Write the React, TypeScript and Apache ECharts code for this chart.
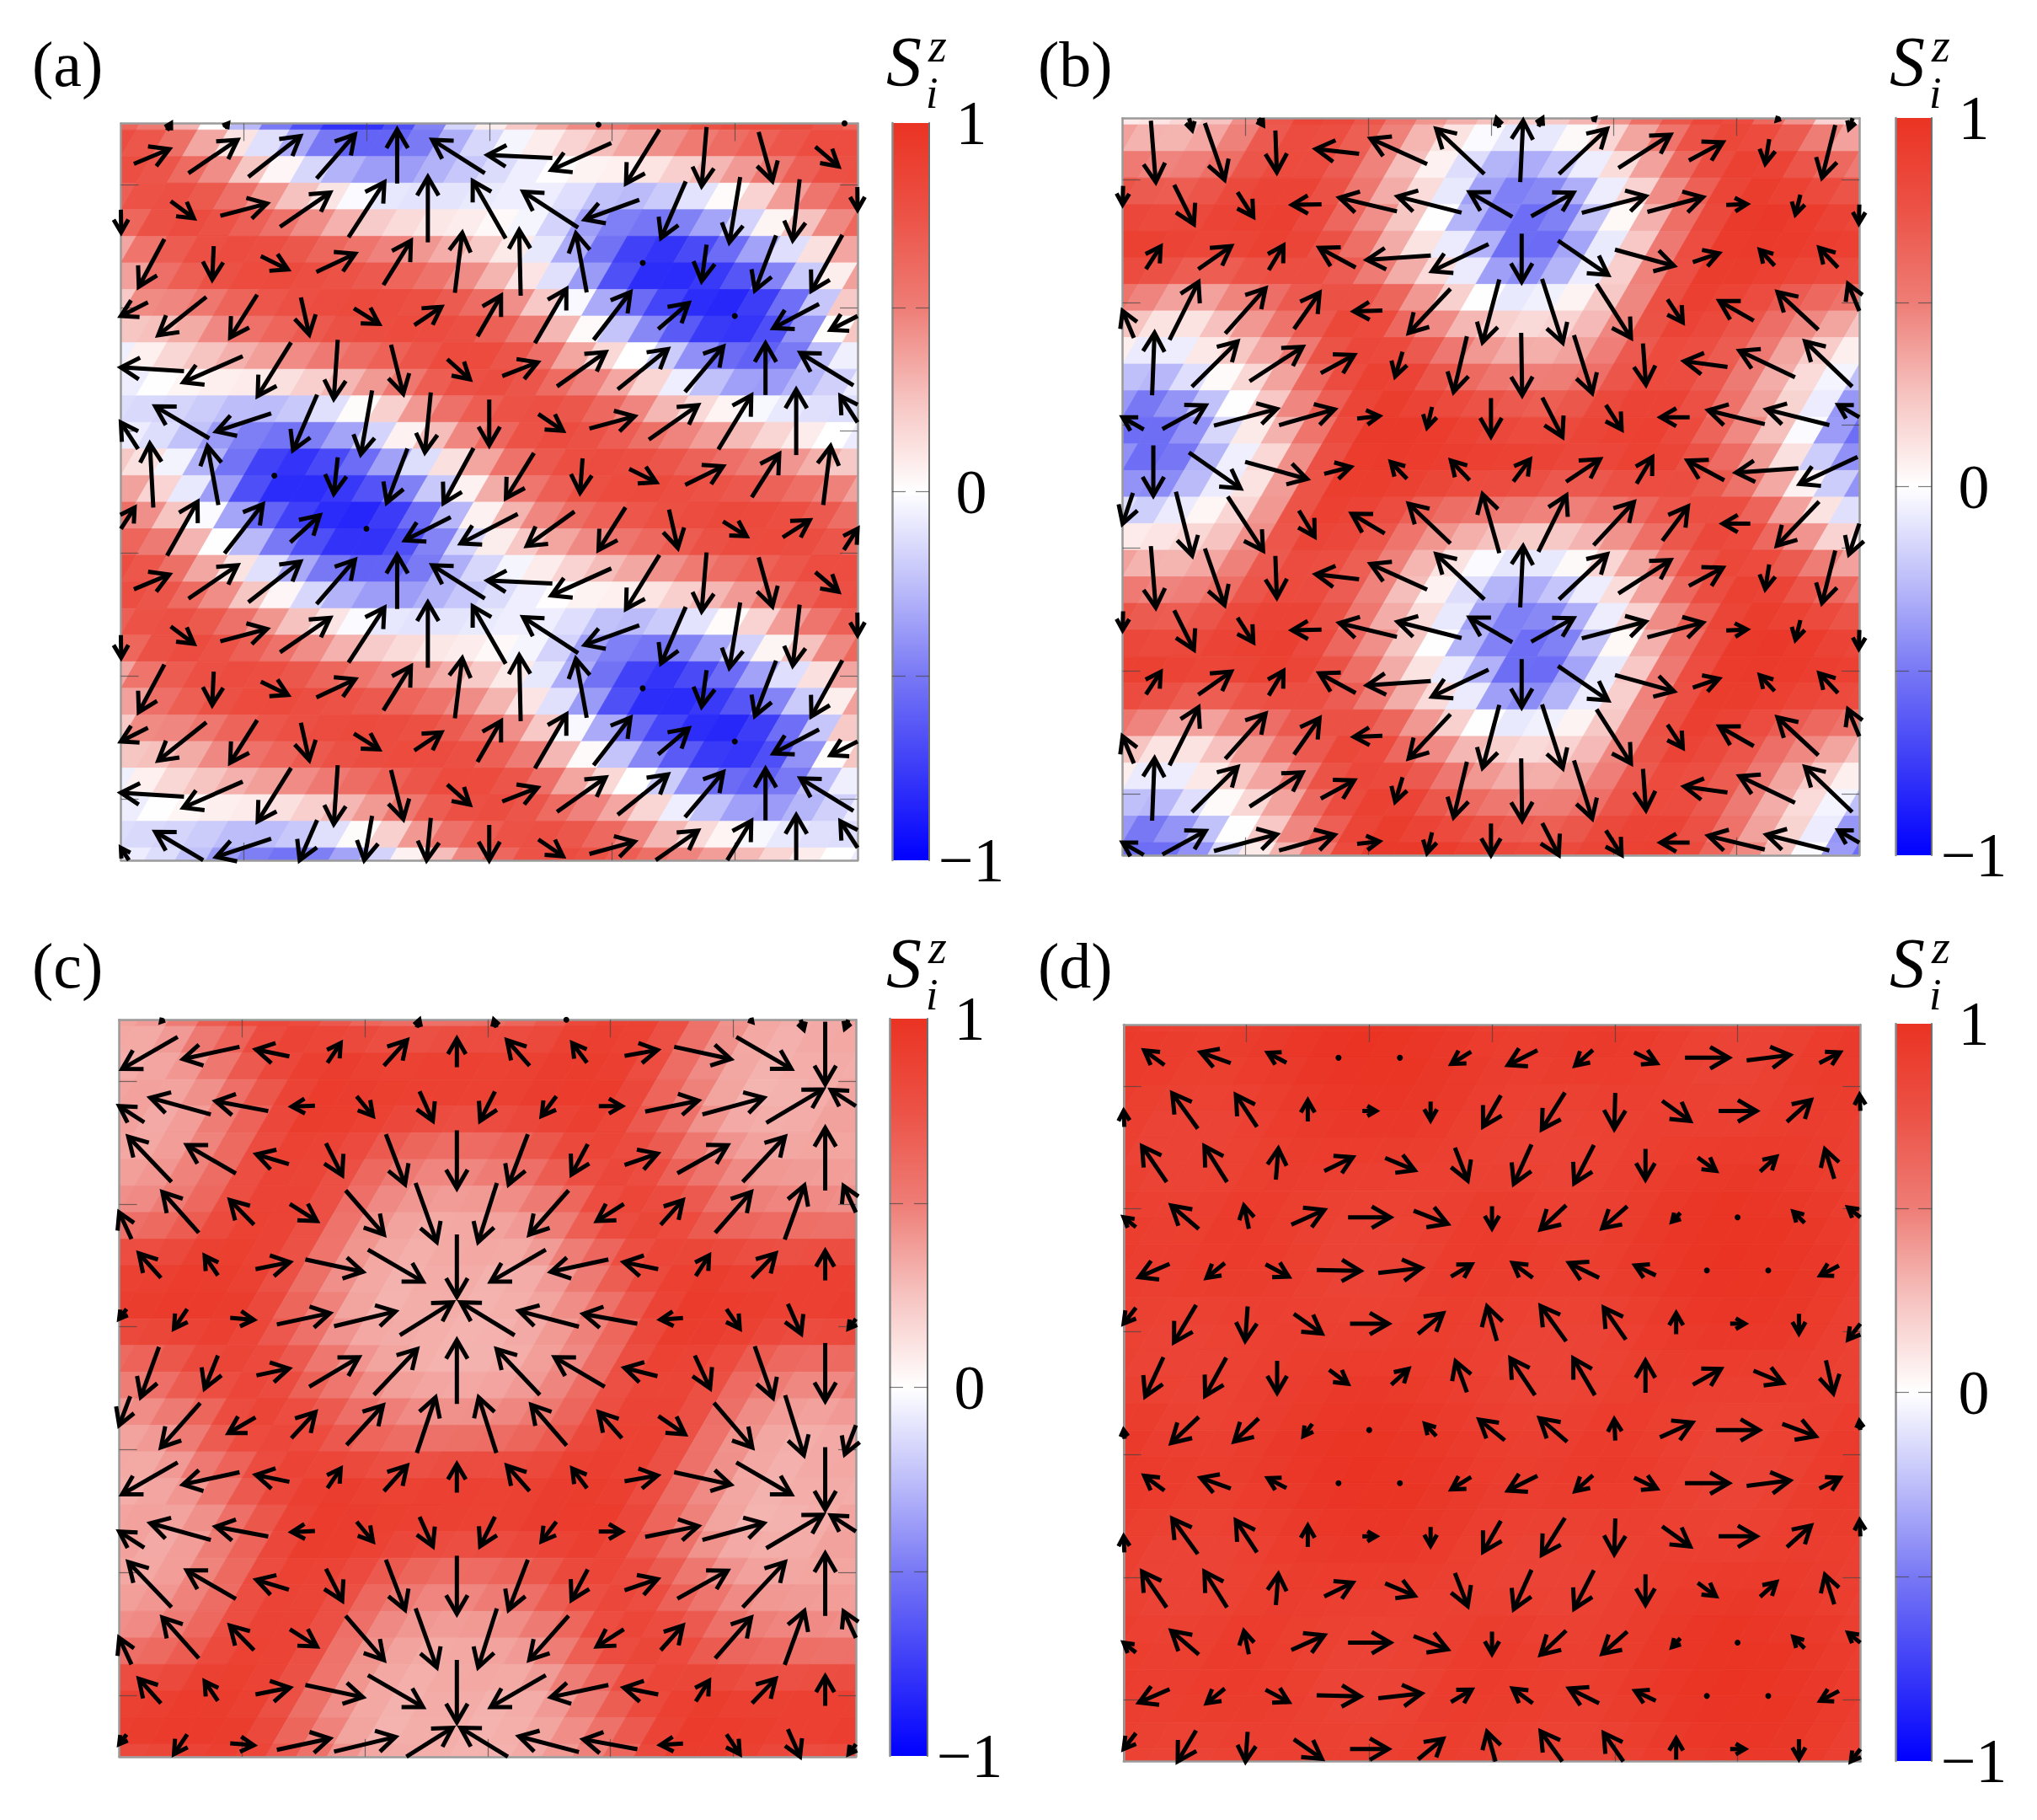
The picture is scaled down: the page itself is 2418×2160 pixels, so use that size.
import React, { useEffect, useRef } from "react";
import * as echarts from "echarts";

// Values: one magnetic unit cell of 8 lattice rows x 12 sites per panel.
// VX, VY: in-plane arrow components (1/125 of a lattice constant, y up). SZ: colour value at the site.
const A_VX = [
  [72,100,106,78,0,-107,-132,-122,-68,-10,28,47],
  [1,47,95,102,73,0,-67,-112,-111,-50,-22,-14],
  [-52,-3,55,79,56,15,-3,-22,0,-10,-43,-63],
  [-110,-98,-55,17,51,55,48,64,75,62,0,-93],
  [-132,-121,-68,-8,25,46,72,99,102,78,0,-108],
  [-70,-110,-112,-49,-23,-12,0,50,92,100,67,0],
  [-7,-22,0,-8,-42,-61,-57,-5,55,77,56,15],
  [56,62,78,60,0,-93,-116,-97,-55,18,48,55],
];
const A_VY = [
  [30,68,83,90,110,68,6,-55,-110,-120,-100,-40],
  [-92,-35,25,70,112,133,117,73,-40,-115,-133,-124],
  [-97,-68,-27,37,90,122,134,120,0,-74,-112,-114],
  [-56,-78,-87,-76,-32,37,83,110,97,53,0,-49],
  [8,-53,-109,-120,-100,-41,28,70,82,92,105,66],
  [108,65,-37,-113,-130,-122,-93,-34,25,70,110,133],
  [130,120,0,-74,-110,-112,-92,-70,-27,38,88,120],
  [86,110,100,55,0,-47,-60,-70,-87,-78,-30,35],
];
const A_SZ = [
  [.81,.43,-.05,-.46,-.57,-.32,-.12,.1,.25,.45,.63,.89],
  [.72,.9,.68,.38,.08,-.05,-.05,-.12,-.47,-.38,-.1,.35],
  [.57,.86,.89,.76,.61,.4,.07,-.41,-.98,-.83,-.45,.1],
  [.4,.35,.64,.81,.89,.87,.7,.3,-.3,-.79,-.98,-.62],
  [.05,.17,.28,.45,.64,.89,.82,.43,.15,-.38,-.62,-.3],
  [-.2,-.28,-.47,-.4,-.1,.38,.72,.89,.7,.4,.2,-.05],
  [.2,-.4,-.98,-.83,-.47,.1,.59,.85,.89,.76,.63,.43],
  [.64,.33,-.35,-.8,-.98,-.63,.1,.45,.64,.8,.9,.88],
];
const B_VX = [
  [10,40,3,-88,-115,-98,6,98,106,69,-8,-27],
  [-2,40,32,-60,-117,-130,-87,86,130,113,42,-10],
  [30,67,30,-74,-130,-115,0,102,120,53,-30,-38],
  [-46,59,82,52,-58,-85,-34,42,70,31,-70,-83],
  [5,93,108,68,-15,-27,2,37,6,-88,-113,-96],
  [-86,88,128,113,45,-10,0,41,32,-59,-115,-128],
  [0,105,126,54,-33,-38,34,69,32,-75,-127,-118],
  [-42,33,72,32,-67,-85,-34,57,82,52,-56,-86],
];
const B_VY = [
  [-125,-115,-85,10,52,92,125,92,68,37,-50,-107],
  [-76,-80,-50,-1,28,33,50,48,34,30,2,-40],
  [46,47,50,40,-9,-55,-98,-70,-33,18,32,40],
  [110,118,92,74,-2,-90,-128,-130,-110,-47,40,77],
  [127,92,70,37,-50,-113,-127,-118,-84,12,54,92],
  [50,48,34,32,5,-42,-78,-80,-50,0,28,32],
  [-102,-73,-35,14,34,40,45,46,54,40,-9,-55],
  [-125,-130,-110,-53,40,81,120,115,88,70,0,-90],
];
const B_SZ = [
  [.35,.42,.78,.76,.35,-.1,-.3,-.05,.35,.82,.93,.57],
  [.82,.77,.9,.9,.45,.1,-.55,-.55,-.05,.5,.95,.95],
  [.92,.82,.91,.79,.25,-.05,-.7,-.3,.35,.92,.95,.92],
  [.4,.15,.4,.75,.92,.4,.1,.05,.3,.92,.82,.55],
  [-.25,.1,.3,.83,.93,.55,.38,.42,.78,.76,.4,.05],
  [-.65,-.5,.05,.5,.95,.95,.83,.75,.9,.9,.48,.1],
  [-.65,-.25,.2,.92,.94,.92,.92,.8,.9,.79,.35,-.25],
  [-.1,.05,.25,.9,.83,.5,.4,.35,.47,.77,.92,.4],
];
const C_VX = [
  [-113,-115,-68,27,47,0,-46,-30,67,115,112,0],
  [-102,-123,-107,-47,33,27,-30,-30,47,108,125,115],
  [-88,-100,-66,33,39,0,-39,-33,67,102,86,0],
  [-50,-74,-49,55,78,43,-38,-80,-55,45,73,40],
  [-45,-27,70,117,112,0,-112,-117,-70,27,48,0],
  [-30,-27,48,108,125,107,-110,-122,-110,-46,27,27],
  [-37,-27,66,101,88,0,-88,-102,-67,31,37,0],
  [-45,-80,-55,49,74,38,-36,-72,-47,54,78,38],
];
const C_VY = [
  [-65,-25,14,40,52,58,52,40,12,-25,-65,-127],
  [66,34,20,-2,-40,-60,-60,-40,0,22,34,68],
  [92,58,20,-65,-102,-118,-102,-62,23,57,92,127],
  [108,83,50,-35,-90,-120,-120,-90,-35,50,83,110],
  [50,40,14,-25,-65,-127,-65,-25,14,42,50,60],
  [-40,-40,-4,23,30,67,67,32,20,-3,-40,-61],
  [-102,-67,14,60,93,130,93,60,17,-67,-105,-118],
  [-118,-90,-32,53,81,113,113,83,53,-37,-91,-122],
];
const C_SZ = [
  [.3,.48,.87,.93,.85,.91,.87,.93,.87,.48,.3,.35],
  [.4,.32,.58,.94,.93,.88,.88,.93,.94,.57,.3,.3],
  [.35,.5,.87,.84,.58,.48,.58,.85,.85,.5,.36,.35],
  [.45,.55,.86,.88,.45,.35,.35,.45,.88,.87,.55,.5],
  [.87,.94,.85,.45,.3,.35,.3,.45,.85,.93,.86,.9],
  [.93,.94,.94,.57,.3,.33,.3,.36,.55,.94,.94,.88],
  [.58,.85,.87,.5,.33,.3,.33,.48,.86,.84,.55,.48],
  [.35,.45,.89,.85,.58,.47,.47,.58,.86,.88,.45,.32],
];
const D_VX = [
  [-41,-61,-38,0,0,-40,-60,-36,46,89,88,42],
  [-3,-52,-43,0,28,0,-36,-47,-2,57,77,49],
  [-50,-46,5,58,60,26,-36,-40,0,37,33,-19],
  [-50,-56,-10,67,86,69,0,-52,-51,-17,0,-23],
  [-62,-37,47,89,88,42,-41,-61,-42,0,0,-38],
  [-50,-45,-5,57,78,51,-20,-52,-45,0,30,0],
  [-37,-43,0,38,35,-23,-50,-44,0,57,60,15],
  [-4,-56,-50,-18,0,-23,-52,-56,-2,66,88,68],
];
const D_VY = [
  [30,22,20,0,0,-25,-30,-32,-22,0,11,22],
  [65,72,65,43,0,-38,-63,-75,-73,-41,0,44],
  [73,73,63,28,-25,-67,-80,-78,-62,-27,30,60],
  [40,48,47,30,0,-27,-45,-49,-45,-18,0,23],
  [-27,-30,-25,-2,10,25,30,30,20,0,0,-20],
  [-65,-76,-70,-40,0,42,70,72,65,43,0,-40],
  [-80,-78,-65,-28,32,63,75,75,65,32,-25,-67],
  [36,-53,-47,-25,0,25,42,48,43,30,0,-25],
];
const D_SZ = [
  [.94,.91,.95,1,1,.95,.91,.95,.94,.86,.86,.95],
  [.91,.86,.88,.95,.97,.96,.89,.86,.89,.9,.88,.91],
  [.86,.86,.91,.91,.91,.89,.86,.86,.91,.95,.95,.91],
  [.91,.89,.95,.89,.86,.89,.95,.89,.9,.98,1,.97],
  [.9,.94,.93,.86,.86,.94,.93,.9,.95,1,1,.95],
  [.88,.86,.9,.9,.88,.91,.89,.86,.88,.95,.97,.96],
  [.86,.86,.91,.94,.94,.91,.86,.86,.91,.91,.91,.9],
  [.96,.88,.9,.97,1,.96,.91,.89,.95,.89,.86,.89],
];
const PANEL_LABELS = ["(a)", "(b)", "(c)", "(d)"];
const BAR_TICKS = [-0.5, 0, 0.5];
const BAR_LABELS = [-1, 0, 1];
const AXIS_TICKS_X = [2, 4, 6, 8, 10];
const AXIS_TICKS_Y = [1, 3, 5, 7, 9, 11];
const COLOR_STOPS: [number, number[]][] = [
  [-1, [0, 0, 255]],
  [-0.75, [60, 60, 248]],
  [-0.5, [120, 120, 245]],
  [-0.25, [190, 190, 250]],
  [0, [255, 255, 255]],
  [0.25, [246, 195, 192]],
  [0.5, [238, 125, 118]],
  [0.75, [236, 82, 70]],
  [1, [234, 51, 35]],
];

const PANELS = [
  { vx: A_VX, vy: A_VY, sz: A_SZ, box: [143.5, 146.4, 874.5], bar: [1059, 146, 44, 875], label: [38, 76], s: [1052, 90] },
  { vx: B_VX, vy: B_VY, sz: B_SZ, box: [1332.6, 140.3, 874.5], bar: [2250, 140, 43, 875], label: [1232, 76], s: [2243, 90] },
  { vx: C_VX, vy: C_VY, sz: C_SZ, box: [141.5, 1210.3, 874.5], bar: [1056, 1209, 45, 875], label: [38, 1146], s: [1052, 1160] },
  { vx: D_VX, vy: D_VY, sz: D_SZ, box: [1333.8, 1216, 874.5], bar: [2250, 1215, 43, 875], label: [1232, 1146], s: [2243, 1160] },
];

const ROW_STEP = Math.sqrt(3) / 2;
const FIRST_ROW = 0.54; // distance of lattice row 1 below the top of the box

function colorOf(v: number) {
  const t = Math.max(-1, Math.min(1, v));
  for (let i = 0; i < COLOR_STOPS.length - 1; i++) {
    const [a, ca] = COLOR_STOPS[i];
    const [b, cb] = COLOR_STOPS[i + 1];
    if (t <= b) {
      const f = (t - a) / (b - a);
      return `rgb(${ca.map((c, k) => Math.round(c + (cb[k] - c) * f)).join(",")})`;
    }
  }
  return "#000";
}

const mod = (n: number, m: number) => ((n % m) + m) % m;
const rowY = (r: number) => 12 - (FIRST_ROW + (r - 1) * ROW_STEP);

// Site k of row r sits at x = k (even rows) or x = k + 1/2 (odd rows).
function siteValue(table: number[][], r: number, k: number) {
  return table[mod(r - 1, 8)][mod(k, 12)];
}

// Colour cells: like the source plot's shaded surface, every lattice quad is split 2x2,
// each part taking the mean of the values that the four site readings give at its corners.
function buildCells(sz: number[][]) {
  const out: number[][] = [];
  for (let r = -1; r <= 15; r++) {
    const odd = mod(r, 2) === 1;
    for (let k = -2; k <= 14; k++) {
      const x = k + (odd ? 0.5 : 0);
      const a = siteValue(sz, r, k);
      const b = siteValue(sz, r, k + 1);
      const d = siteValue(sz, r + 1, odd ? k : k - 1);
      const c = siteValue(sz, r + 1, odd ? k + 1 : k);
      const at = (u: number, v: number) =>
        a * (1 - u) * (1 - v) + b * u * (1 - v) + c * u * v + d * (1 - u) * v;
      for (let j = 0; j < 2; j++) {
        for (let i = 0; i < 2; i++) {
          const u = i / 2, v = j / 2;
          const mean = (at(u, v) + at(u + 0.5, v) + at(u, v + 0.5) + at(u + 0.5, v + 0.5)) / 4;
          out.push([x + i * 0.5 - j * 0.25, rowY(r) - (j * ROW_STEP) / 2, mean]);
        }
      }
    }
  }
  return out;
}

function buildArrows(vx: number[][], vy: number[][]) {
  const out: number[][] = [];
  for (let r = 0; r <= 15; r++) {
    const odd = mod(r, 2) === 1;
    for (let k = 0; k <= (odd ? 11 : 12); k++) {
      out.push([k + (odd ? 0.5 : 0), rowY(r), siteValue(vx, r, k) / 125, siteValue(vy, r, k) / 125]);
    }
  }
  return out;
}

function renderCell(params: any, api: any) {
  const x = api.value(0), y = api.value(1), v = api.value(2);
  const h = ROW_STEP / 2;
  const pts = [[x, y], [x + 0.5, y], [x + 0.25, y - h], [x - 0.25, y - h]].map((p) => api.coord(p));
  const fill = colorOf(v);
  return { type: "polygon", shape: { points: pts }, style: { fill, stroke: fill, lineWidth: 0.8 } };
}

function clipSegment(p: number[], q: number[], rc: any) {
  let t0 = 0, t1 = 1;
  const dx = q[0] - p[0], dy = q[1] - p[1];
  const tests = [
    [-dx, p[0] - rc.x],
    [dx, rc.x + rc.width - p[0]],
    [-dy, p[1] - rc.y],
    [dy, rc.y + rc.height - p[1]],
  ];
  for (const [a, b] of tests) {
    if (a === 0) {
      if (b < 0) return null;
    } else {
      const t = b / a;
      if (a < 0) t0 = Math.max(t0, t);
      else t1 = Math.min(t1, t);
    }
  }
  if (t0 > t1) return null;
  return [p[0] + t0 * dx, p[1] + t0 * dy, p[0] + t1 * dx, p[1] + t1 * dy];
}

function renderArrow(params: any, api: any) {
  const x = api.value(0), y = api.value(1), dx = api.value(2), dy = api.value(3);
  const tail = api.coord([x - dx / 2, y - dy / 2]);
  const head = api.coord([x + dx / 2, y + dy / 2]);
  const seg = clipSegment(tail, head, params.coordSys);
  if (!seg) return null;
  const [x1, y1, x2, y2] = seg;
  const L = Math.hypot(x2 - x1, y2 - y1);
  if (L < 2) {
    return { type: "circle", shape: { cx: x2, cy: y2, r: 3.5 }, style: { fill: "#000" } };
  }
  const ux = (x2 - x1) / L, uy = (y2 - y1) / L;
  const h = Math.min(22, 0.45 * L + 3);
  const w = h * 0.58;
  const bx = x2 - ux * h, by = y2 - uy * h;
  return {
    type: "group",
    children: [
      { type: "line", shape: { x1, y1, x2: x2 - ux * 2, y2: y2 - uy * 2 }, style: { stroke: "#000", lineWidth: 5 } },
      {
        type: "polyline",
        shape: { points: [[bx - uy * w, by + ux * w], [x2, y2], [bx + uy * w, by - ux * w]] },
        style: { stroke: "#000", fill: "none", lineWidth: 5, lineJoin: "miter", miterLimit: 6 },
      },
    ],
  };
}

function renderBar(params: any, api: any) {
  const a = api.coord([api.value(0), api.value(1)]);
  const b = api.coord([api.value(2), api.value(3)]);
  const stops = COLOR_STOPS.map(([v]) => ({ offset: (1 - v) / 2, color: colorOf(v) })).reverse();
  return {
    type: "rect",
    shape: { x: a[0], y: a[1], width: b[0] - a[0], height: b[1] - a[1] },
    style: { fill: new echarts.graphic.LinearGradient(0, 0, 0, 1, stops) },
  };
}

const SERIF = "'Liberation Serif', 'Times New Roman', serif";

function buildOption() {
  const grid: any[] = [], xAxis: any[] = [], yAxis: any[] = [], series: any[] = [], graphic: any[] = [];
  const boxLine = { show: true, onZero: false, lineStyle: { color: "#9a9a9a", width: 2.5 } };
  const tick = (customValues: number[], len = 21) => ({
    show: true, inside: true, length: len, customValues,
    lineStyle: { color: "rgba(70,70,70,0.7)", width: 1.2 },
  });
  PANELS.forEach((p, i) => {
    const [bx, by, bs] = p.box;
    const [cx, cy, cw, ch] = p.bar;
    grid.push({ left: bx, top: by, width: bs, height: bs });
    grid.push({ left: cx, top: cy, width: cw, height: ch });
    const g = i * 2, h = i * 2 + 1;
    const x0 = xAxis.length, y0 = yAxis.length;
    ["bottom", "top"].forEach((position) =>
      xAxis.push({
        type: "value", gridIndex: g, position, min: 0, max: 12, interval: 2, z: 3,
        axisLine: boxLine, axisTick: tick(AXIS_TICKS_X), axisLabel: { show: false }, splitLine: { show: false },
      })
    );
    ["left", "right"].forEach((position) =>
      yAxis.push({
        type: "value", gridIndex: g, position, min: 0, max: 12, interval: 1, z: 3,
        axisLine: boxLine, axisTick: tick(AXIS_TICKS_Y), axisLabel: { show: false }, splitLine: { show: false },
      })
    );
    const xb = xAxis.length;
    xAxis.push({ type: "value", gridIndex: h, min: 0, max: 1, show: false });
    const yb = yAxis.length;
    yAxis.push({
      type: "value", gridIndex: h, position: "left", min: -1, max: 1, interval: 1, z: 3,
      axisLine: { show: true, onZero: false, lineStyle: { color: "#8a8a8a", width: 2.5 } },
      axisTick: tick(BAR_TICKS, 16), axisLabel: { show: false }, splitLine: { show: false },
    });
    yAxis.push({
      type: "value", gridIndex: h, position: "right", min: -1, max: 1, interval: 1, z: 3,
      axisLine: { show: true, onZero: false, lineStyle: { color: "#6f6f6f", width: 2 } },
      axisTick: tick(BAR_TICKS, 16), splitLine: { show: false },
      axisLabel: {
        show: true, inside: false, margin: 50, align: "center", verticalAlign: "middle", padding: [0, 0, 9, 0],
        fontFamily: SERIF, fontSize: 74, color: "#000", customValues: BAR_LABELS,
        formatter: (v: number) => (v < 0 ? "\u22121" : String(v)),
      },
    });
    series.push({
      type: "custom", name: `Sz ${PANEL_LABELS[i]}`, coordinateSystem: "cartesian2d", xAxisIndex: x0, yAxisIndex: y0,
      renderItem: renderCell, data: buildCells(p.sz), clip: true, silent: true, z: 1, progressive: 0,
    });
    series.push({
      type: "custom", name: `S ${PANEL_LABELS[i]}`, coordinateSystem: "cartesian2d", xAxisIndex: x0, yAxisIndex: y0,
      renderItem: renderArrow, data: buildArrows(p.vx, p.vy), clip: false, silent: true, z: 5, progressive: 0,
    });
    series.push({
      type: "custom", name: `bar ${PANEL_LABELS[i]}`, coordinateSystem: "cartesian2d", xAxisIndex: xb, yAxisIndex: yb,
      renderItem: renderBar, data: [[0, 1, 1, -1]], silent: true, z: 1,
    });
    const txt = (text: string, x: number, y: number, size: number, italic = false) => ({
      type: "text", x, y, silent: true, z: 10,
      style: { text, fill: "#000", fontFamily: SERIF, fontSize: size, fontStyle: italic ? "italic" : "normal", textAlign: "left", textVerticalAlign: "middle" },
    });
    graphic.push(txt(PANEL_LABELS[i], p.label[0], p.label[1], 76));
    graphic.push(txt("S", p.s[0], p.s[1] - 17, 84, true));
    graphic.push(txt("z", p.s[0] + 50, p.s[1] - 36, 56, true));
    graphic.push(txt("i", p.s[0] + 47, p.s[1] + 20, 52, true));
  });
  return { animation: false, backgroundColor: "#fff", grid, xAxis, yAxis, series, graphic };
}

export default function App() {
  const ref = useRef<HTMLDivElement>(null);
  useEffect(() => {
    const chart = echarts.init(ref.current!, undefined, { renderer: "svg" });
    chart.setOption(buildOption() as any);
    return () => chart.dispose();
  }, []);
  return <div ref={ref} style={{ position: "absolute", left: 0, top: 0, width: 2418, height: 2160 }} />;
}
